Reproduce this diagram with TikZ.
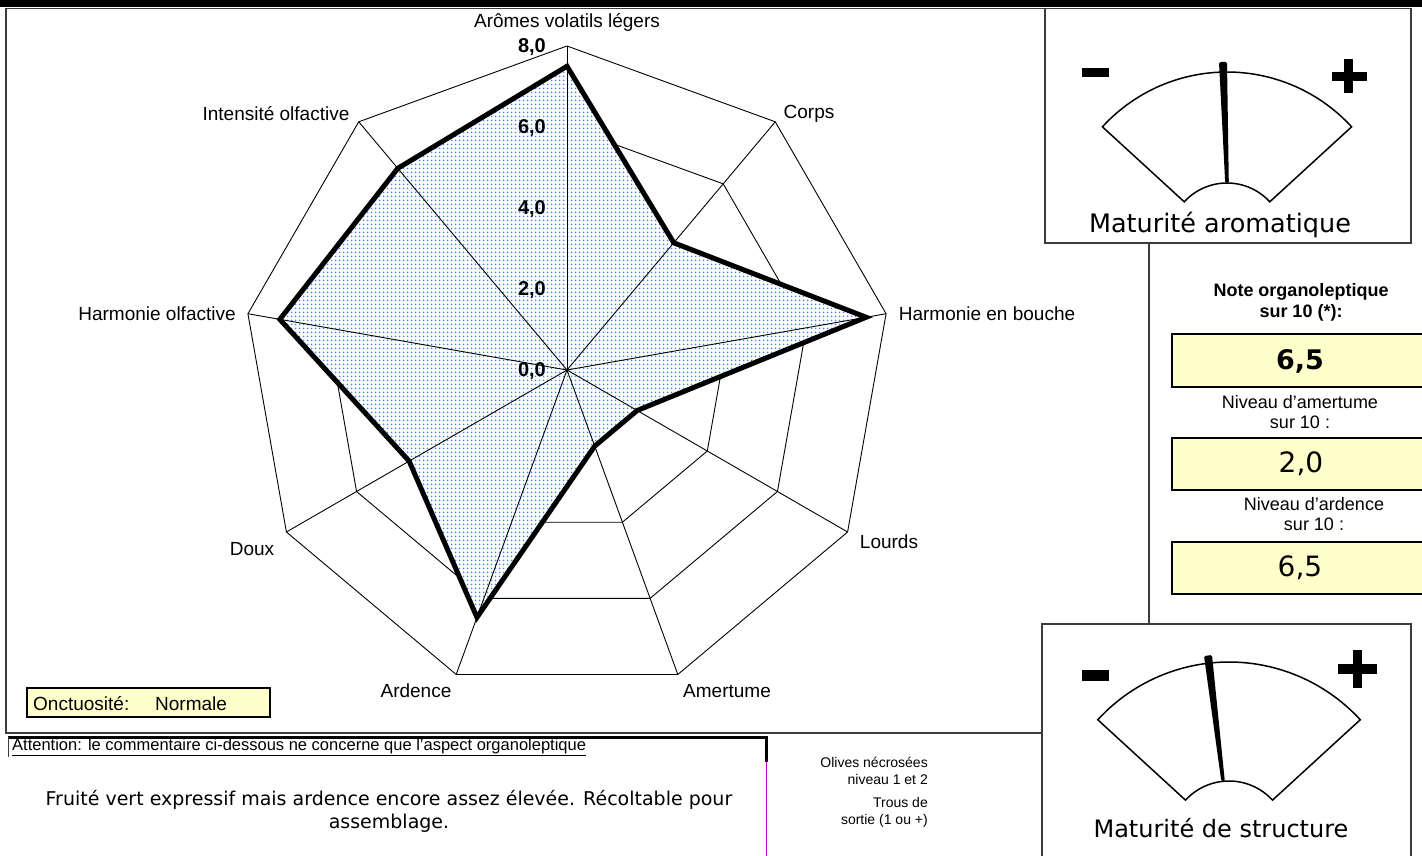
\documentclass[tikz,border=0pt]{standalone}
\usepackage{fontspec}
\setmainfont{Liberation Sans}
\newfontfamily\verd{DejaVu Sans}
\usetikzlibrary{patterns.meta}
\definecolor{dotblue}{RGB}{60,130,220}
\definecolor{boxyellow}{RGB}{255,255,204}
\definecolor{frameline}{RGB}{60,60,60}
\definecolor{magline}{RGB}{190,0,190}
\begin{document}
\begin{tikzpicture}[x=1pt,y=-1pt,
  axlab/.style={font=\fontsize{19}{22}\selectfont, inner sep=0pt},
  ticklab/.style={font=\fontsize{20}{22}\selectfont\bfseries, inner sep=0pt, anchor=east},
  gridline/.style={line width=0.9pt},
  series/.style={line width=5pt, black},
  panel/.style={draw=frameline, line width=1.2pt, fill=white},
  valbox/.style={draw=black, line width=1.5pt, fill=boxyellow},
  sidetxt/.style={font=\fontsize{18}{20}\selectfont, inner sep=0pt, align=center},
  gaugeshape/.style={draw=black, line width=1.5pt},
  needle/.style={fill=black, rounded corners=1.5pt},
  gaugetxt/.style={font=\verd\fontsize{24}{28}\selectfont, inner sep=0pt},
  sign/.style={fill=black},
  smalltxt/.style={font=\fontsize{14}{17}\selectfont, inner sep=0pt, align=right, anchor=east},
]
\useasboundingbox (0,0) rectangle (1422,856);
\clip (0,0) rectangle (1422,856);
% top bar
\fill (0,0) rectangle (1422,7);
% chart frame
\draw[frameline, line width=1.2pt] (6,8.5) rectangle (1149,733);

% ---------- radar ----------
\coordinate (C) at (567,370);
\begin{scope}[shift={(567,370)}]
  \foreach \l in {2,4,6,8}{
    \draw[gridline] (-90:{\l*40.5}) \foreach \i in {1,...,8}{ -- ({40*\i-90}:{\l*40.5}) } -- cycle;
  }
  \foreach \i in {0,...,8}{ \coordinate (a\i) at ({40*\i-90}:324); }
  \foreach \v [count=\i from 0] in {7.5,4.1,7.5,2.0,2.0,6.5,4.5,7.2,6.5}{
    \coordinate (d\i) at ({40*\i-90}:{\v*40.5});
  }
\end{scope}
\fill[white] (d0) -- (d1) -- (d2) -- (d3) -- (d4) -- (d5) -- (d6) -- (d7) -- (d8) -- cycle;
\fill[pattern color=dotblue, pattern={Dots[distance=4pt,radius=1.1pt]}]
  (d0) -- (d1) -- (d2) -- (d3) -- (d4) -- (d5) -- (d6) -- (d7) -- (d8) -- cycle;
\foreach \i in {0,...,8}{ \draw[gridline] (C) -- (a\i); }
\draw[series] (d0) -- (d1) -- (d2) -- (d3) -- (d4) -- (d5) -- (d6) -- (d7) -- (d8) -- cycle;

% tick labels
\node[ticklab] (t8) at (546,47) {8,0};
\node[ticklab] (t6) at (546,128) {6,0};
\node[ticklab] (t4) at (546,209) {4,0};
\node[ticklab] (t2) at (546,290) {2,0};
\node[ticklab] (t0) at (546,371) {0,0};

% axis labels
\node[axlab] (l0) at (567,22) {Arômes volatils légers};
\node[axlab] (l1) at (809,114) {Corps};
\node[axlab] (l2) at (987,314) {Harmonie en bouche};
\node[axlab] (l3) at (889,542) {Lourds};
\node[axlab] (l4) at (727,691) {Amertume};
\node[axlab] (l5) at (416,691) {Ardence};
\node[axlab] (l6) at (252,549) {Doux};
\node[axlab] (l7) at (157,314) {Harmonie olfactive};
\node[axlab] (l8) at (276,114) {Intensité olfactive};

% onctuosite
\draw[fill=boxyellow, draw=black, line width=1.2pt] (27,688) rectangle (270,717);
\node[axlab, anchor=west] (onc) at (33,704) {Onctuosité:};
\node[axlab, anchor=west] (norm) at (155,704) {Normale};

% ---------- right panel ----------
\node[sidetxt, font=\bfseries\fontsize{18}{21}\selectfont] (notet) at (1301,302) {Note organoleptique\\sur 10 (*):};
\draw[valbox] (1172,334) rectangle (1426,387);
\node[font=\verd\bfseries\fontsize{27}{30}\selectfont, inner sep=0pt] (note) at (1300,361) {6,5};
\node[sidetxt] (amt) at (1300,412) {Niveau d'amertume\\sur 10 :};
\draw[valbox] (1172,438) rectangle (1426,490);
\node[font=\verd\fontsize{28}{30}\selectfont, inner sep=0pt] (amv) at (1301,464) {2,0};
\node[sidetxt] (art) at (1314,514) {Niveau d'ardence\\sur 10 :};
\draw[valbox] (1172,542) rectangle (1426,594);
\node[font=\verd\fontsize{28}{30}\selectfont, inner sep=0pt] (arv) at (1300,568) {6,5};

% ---------- upper gauge ----------
\draw[panel] (1045,8.5) rectangle (1411,243);
\begin{scope}[shift={(1227,241)}]
  \draw[gaugeshape] plot[domain=-137.5:-42.5, samples=60] (\x:169) -- plot[domain=-42.5:-137.5, samples=30] (\x:58) -- cycle;
\end{scope}
\fill[needle] (1228.8,183) -- (1225.2,183) -- (1219,62) -- (1227,62) -- cycle;
\fill[sign] (1082,68) rectangle (1109,77);
\fill[sign] (1332,72) rectangle (1367,81);
\fill[sign] (1344,59) rectangle (1353,93);
\node[gaugetxt, font=\verd\fontsize{25.5}{28}\selectfont] (g1) at (1220,225) {Maturité aromatique};

% ---------- lower gauge ----------
\draw[panel] (1042,624) rectangle (1411,880);
\begin{scope}[shift={(1229,840)}]
  \draw[gaugeshape] plot[domain=-137.5:-42.5, samples=60] (\x:178) -- plot[domain=-42.5:-137.5, samples=30] (\x:59) -- cycle;
\end{scope}
\fill[needle] (1224.8,781) -- (1221.3,781.3) -- (1204,656) -- (1212,655) -- cycle;
\fill[sign] (1082,670) rectangle (1109,681);
\fill[sign] (1338,664) rectangle (1377,674);
\fill[sign] (1353,650) rectangle (1362,688);
\node[gaugetxt] (g2) at (1221,828) {Maturité de structure};

% ---------- comment box ----------
\draw[line width=3pt] (8,737) -- (768,737);
\draw[line width=3pt] (766,737) -- (766,762);
\draw[magline, line width=1pt] (766,762) -- (766,860);
\draw[frameline, line width=0.8pt] (8,737) -- (8,757);
\node[font=\fontsize{16.5}{18}\selectfont, anchor=west, inner sep=0pt] (att) at (12,747)
  {\underline{Attention: le commentaire ci-dessous ne concerne que l'aspect organoleptique}};
\node[font=\verd\fontsize{19}{23}\selectfont, align=center, inner sep=0pt] (com) at (389,811)
  {Fruité vert expressif mais ardence encore assez élevée. Récoltable pour\\assemblage.};

% small texts
\node[smalltxt] (oliv) at (928,771) {Olives nécrosées\\niveau 1 et 2};
\node[smalltxt] (trou) at (928,812) {Trous de\\sortie (1 ou +)};
\end{tikzpicture}
\end{document}
